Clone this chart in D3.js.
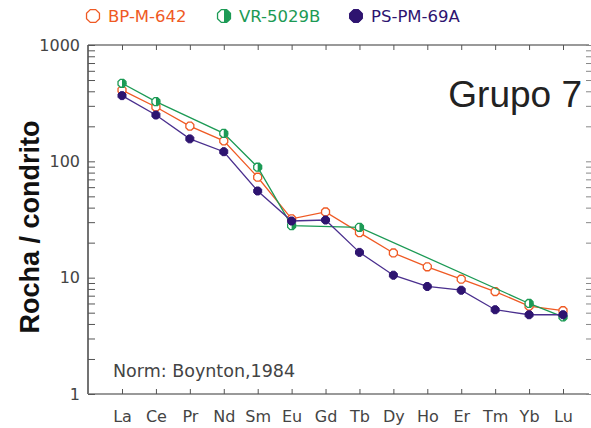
<!DOCTYPE html>
<html>
<head>
<meta charset="utf-8">
<script src="https://cdn.jsdelivr.net/npm/d3@7"></script>
<style>
  html, body { margin: 0; padding: 0; background: #fff; }
  svg { display: block; }
</style>
</head>
<body>
<svg id="chart" width="591" height="428"></svg>
<script>
// Rare earth elements, chondrite-normalised (Boynton, 1984)
const elements = ["La", "Ce", "Pr", "Nd", "Sm", "Eu", "Gd", "Tb", "Dy", "Ho", "Er", "Tm", "Yb", "Lu"];
const yTicks = [1, 10, 100, 1000];

const bpM642 = [410, 293, 201, 150, 73, 32, 36.7, 24.4, 16.3, 12.4, 9.7, 7.6, 5.7, 5.2];
const vr5029B = [469, 326, null, 174, 89, 28, null, 27.1, null, null, null, null, 6.0, 4.6];
const psPm69A = [367, 250, 156, 121, 55.6, 30.7, 31.3, 16.5, 10.5, 8.4, 7.8, 5.3, 4.8, 4.8];

const series = [
  { name: "BP-M-642", values: bpM642, color: "#ef5a24", line: "#ef5a24", fill: "none" },
  { name: "VR-5029B", values: vr5029B, color: "#1c9a55", line: "#1c9a55", fill: "half" },
  { name: "PS-PM-69A", values: psPm69A, color: "#2e1470", line: "#4a2f8e", fill: "full" }
];

const svg = d3.select("#chart");
const plotLeft = 88, plotRight = 586, plotTop = 45, plotBottom = 394;

const x = d3.scalePoint().domain(elements).range([122, 563]);
const y = d3.scaleLog().domain([1, 1000]).range([plotBottom, plotTop]);

const axisColor = "#555";
const tickFont = "'DejaVu Sans', sans-serif";
const textColor = "#444";

// Frame lines
svg.append("line").attr("x1", plotLeft).attr("x2", plotLeft).attr("y1", plotTop).attr("y2", plotBottom)
  .attr("stroke", "#444").attr("stroke-width", 1.5);
svg.append("line").attr("x1", plotLeft).attr("x2", 589).attr("y1", plotBottom).attr("y2", plotBottom)
  .attr("stroke", "#777").attr("stroke-width", 1.3);
svg.append("line").attr("x1", plotLeft).attr("x2", 589).attr("y1", plotTop).attr("y2", plotTop)
  .attr("stroke", "#777").attr("stroke-width", 1.3);

// Log-scale ticks: majors and minors
const minorVals = [];
for (let d = 1; d < 1000; d *= 10) for (let k = 1; k <= 9; k++) minorVals.push(d * k);
minorVals.push(1000);

const leftAxis = d3.axisRight(y).tickValues(minorVals).tickSize(7).tickFormat("");
const gl = svg.append("g").attr("transform", `translate(${plotLeft},0)`).call(leftAxis);
gl.select(".domain").remove();
gl.selectAll(".tick line").attr("stroke", axisColor).attr("stroke-width", 1);

const rightAxis = d3.axisRight(y).tickValues(minorVals).tickSize(5).tickFormat("");
const gr = svg.append("g").attr("transform", `translate(${plotRight},0)`).call(rightAxis);
gr.select(".domain").remove();
gr.selectAll(".tick line").attr("stroke", "#888").attr("stroke-width", 1);

// Y tick labels
const yl = d3.axisLeft(y).tickValues(yTicks).tickSize(0).tickPadding(8).tickFormat(d3.format("d"));
const gyl = svg.append("g").attr("transform", `translate(${plotLeft},0)`).call(yl);
gyl.select(".domain").remove();
gyl.selectAll(".tick text").attr("font-family", tickFont).attr("font-size", 16).attr("fill", textColor);

// X axis ticks (bottom, pointing up) and labels
const xb = d3.axisBottom(x).tickSize(-5).tickPadding(17);
const gxb = svg.append("g").attr("transform", `translate(0,${plotBottom})`).call(xb);
gxb.select(".domain").remove();
gxb.selectAll(".tick line").attr("stroke", axisColor);
gxb.selectAll(".tick text").attr("font-family", tickFont).attr("font-size", 16).attr("fill", textColor);

// X ticks on top frame (pointing down)
const xt = d3.axisTop(x).tickSize(-5).tickFormat("");
const gxt = svg.append("g").attr("transform", `translate(0,${plotTop})`).call(xt);
gxt.select(".domain").remove();
gxt.selectAll(".tick line").attr("stroke", axisColor);

// Octagon marker path
function octagon(r) {
  const pts = d3.range(8).map(i => {
    const a = Math.PI / 8 + i * Math.PI / 4;
    return [r * Math.cos(a), r * Math.sin(a)];
  });
  return "M" + pts.map(p => p.join(",")).join("L") + "Z";
}
function halfOctagon(r) {
  // right half, filled
  const pts = d3.range(5).map(i => {
    const a = -Math.PI / 2 + i * Math.PI / 4;
    return [r * Math.cos(a), r * Math.sin(a)];
  });
  return "M" + pts.map(p => p.join(",")).join("L") + "Z";
}

function drawMarker(g, s, r) {
  if (s.fill === "none") {
    g.append("path").attr("d", octagon(r)).attr("fill", "#fff").attr("stroke", s.color).attr("stroke-width", 1.3);
  } else if (s.fill === "half") {
    g.append("path").attr("d", octagon(r)).attr("fill", "#fff").attr("stroke", s.color).attr("stroke-width", 1.3);
    g.append("path").attr("d", halfOctagon(r)).attr("fill", s.color);
  } else {
    g.append("path").attr("d", octagon(r)).attr("fill", s.color).attr("stroke", s.color).attr("stroke-width", 1);
  }
}

// Series lines and markers
const line = d3.line().x(d => x(d.el)).y(d => y(d.v));
series.forEach(s => {
  const pts = elements.map((el, i) => ({ el, v: s.values[i] })).filter(d => d.v != null);
  svg.append("path").datum(pts).attr("d", line)
    .attr("fill", "none").attr("stroke", s.line).attr("stroke-width", 1.3);
  pts.forEach(d => {
    const g = svg.append("g").attr("transform", `translate(${x(d.el)},${y(d.v)})`);
    drawMarker(g, s, 4.3);
  });
});

// Legend
const legendX = [93, 224, 356];
series.forEach((s, i) => {
  const g = svg.append("g").attr("transform", `translate(${legendX[i]},16)`);
  drawMarker(g, s, 7);
  g.append("text").attr("x", 15).attr("y", 6).text(s.name)
    .attr("font-family", tickFont).attr("font-size", 16.5).attr("fill", s.color);
});

// Panel title
svg.append("text").attr("x", 582).attr("y", 107).attr("text-anchor", "end")
  .attr("font-family", "'Liberation Sans', Arial, sans-serif").attr("font-size", 37).attr("fill", "#222")
  .text("Grupo 7");

// Normalisation note
svg.append("text").attr("x", 113).attr("y", 377)
  .attr("font-family", tickFont).attr("font-size", 17.5).attr("fill", textColor)
  .text("Norm: Boynton,1984");

// Y axis title
svg.append("text").attr("transform", "translate(39,227) rotate(-90)").attr("text-anchor", "middle")
  .attr("font-family", "'Liberation Sans', Arial, sans-serif").attr("font-weight", "bold")
  .attr("font-size", 27).attr("fill", "#111")
  .text("Rocha / condrito");
</script>
</body>
</html>
